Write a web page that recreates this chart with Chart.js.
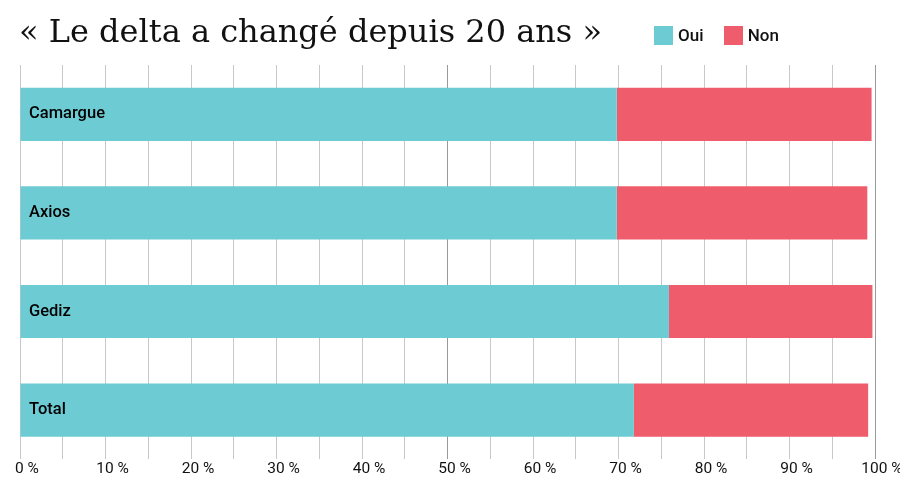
<!DOCTYPE html>
<html>
<head>
<meta charset="utf-8">
<script src="https://cdn.jsdelivr.net/npm/chart.js@4"></script>
<style>
  body { margin: 0; background: #fff; }
  #wrap { position: relative; width: 900px; height: 500px; }
  #titre { position: absolute; left: 19px; top: 12px; font-family: "DejaVu Serif", serif; font-size: 32px; color: #111; white-space: nowrap; }
  #legende { position: absolute; left: 654px; top: 25px; font-family: Roboto, sans-serif; font-weight: 500; font-size: 17px; color: #111; }
  #legende span.item { display: inline-flex; align-items: center; margin-right: 16px; }
  #legende span.box { display: inline-block; width: 19px; height: 19px; margin-right: 5px; }
</style>
</head>
<body>
<div id="wrap">
  <div id="titre">« Le delta a changé depuis 20 ans »</div>
  <div id="legende">
    <span class="item"><span class="box" style="background:#6dcbd4"></span>Oui</span>
    <span class="item"><span class="box" style="background:#ef5d6c"></span>Non</span>
  </div>
  <canvas id="myChart" width="900" height="500"></canvas>
</div>
<script>
var regions = ['Camargue', 'Axios', 'Gediz', 'Total'];
var oui = [69.8, 69.8, 75.9, 71.8];
var non = [29.8, 29.3, 23.8, 27.4];

var ctx = document.getElementById('myChart');
var myChart = new Chart(ctx, {
  type: 'bar',
  data: {
    labels: regions,
    datasets: [
      { label: 'Oui', data: oui, backgroundColor: '#6dcbd4' },
      { label: 'Non', data: non, backgroundColor: '#ef5d6c' }
    ]
  },
  options: {
    indexAxis: 'y',
    responsive: false,
    animation: false,
    categoryPercentage: 1,
    barPercentage: 0.54,
    layout: { padding: { left: 20, right: 25, top: 65, bottom: 22 } },
    plugins: { legend: { display: false }, tooltip: { enabled: false } },
    scales: {
      x: {
        stacked: true,
        min: 0,
        max: 100,
        border: { display: false },
        grid: {
          drawTicks: false,
          color: function(c) {
            var v = c.tick ? c.tick.value : 0;
            return (v === 50 || v === 100) ? '#999' : '#c8c8c8';
          }
        },
        ticks: {
          stepSize: 5,
          autoSkip: false,
          maxRotation: 0,
          labelOffset: 7,
          padding: 0,
          color: '#111',
          font: { family: 'Roboto', size: 15.5 },
          callback: function(value) {
            return value % 10 === 0 ? value + ' %' : '';
          }
        }
      },
      y: {
        stacked: true,
        border: { display: false },
        grid: { display: false },
        afterFit: function(scale) { scale.width = 0; },
        ticks: {
          mirror: true,
          z: 1,
          padding: 9,
          color: '#000',
          font: { family: 'Roboto', size: 16.5, weight: '500' }
        }
      }
    }
  }
});
</script>
</body>
</html>
